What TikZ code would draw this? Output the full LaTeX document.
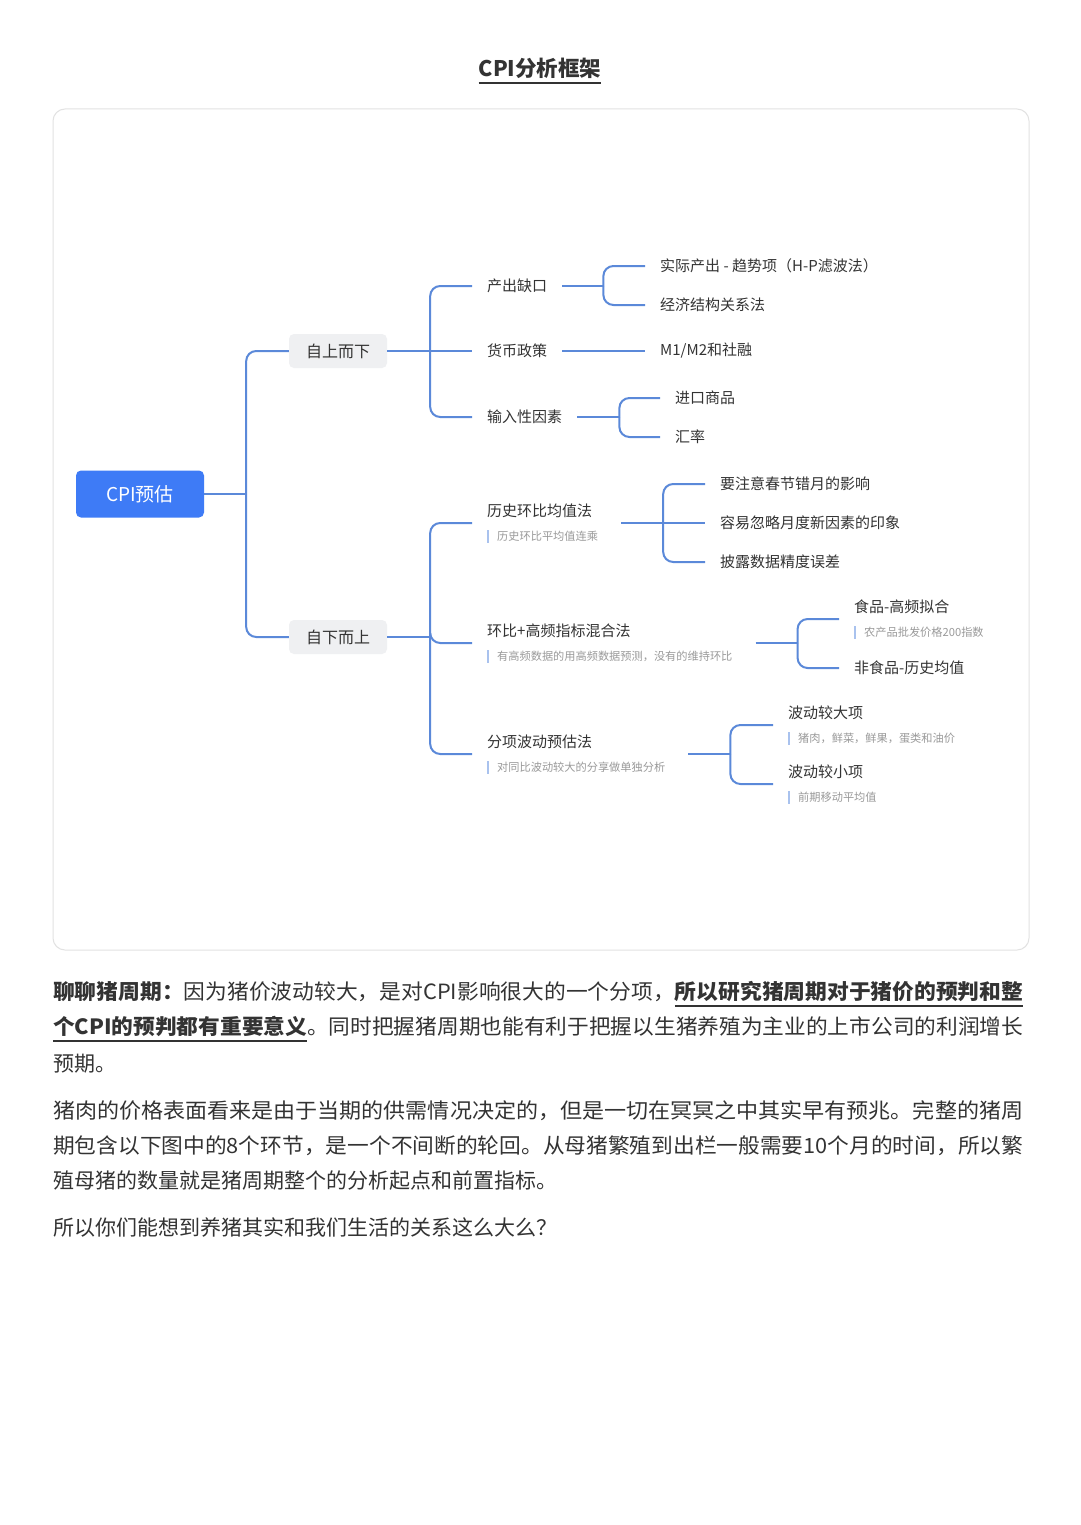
\documentclass[tikz,border=0pt]{standalone}
\usepackage{fontspec}
\setmainfont{Noto Sans CJK SC}
\usepackage{graphicx}
\usetikzlibrary{calc}
\definecolor{tc}{HTML}{333333}
\definecolor{connc}{HTML}{5B89D9}
\definecolor{rootc}{HTML}{3E7BF6}
\definecolor{boxc}{HTML}{EFF0F2}
\definecolor{framec}{HTML}{E2E2E2}
\definecolor{barc}{HTML}{A9C2EE}
\definecolor{subc}{HTML}{9A9A9A}
\newsavebox\ulbox
\newcommand\myul[1]{\sbox\ulbox{#1}\rlap{\rule[-7pt]{\wd\ulbox}{1.8pt}}\usebox\ulbox}
\newcommand\fitl[1]{\resizebox{970pt}{\height}{#1}}
\newcommand\twol[2]{\vbox{\baselineskip=24pt\lineskiplimit=-50pt\lineskip=0pt
  \hbox{\fontsize{15}{18}\selectfont\color{tc}#1}
  \hbox{\textcolor{barc}{\rule[-2.5pt]{1.5pt}{13pt}}\hspace{8.5pt}\textcolor{subc}{\fontsize{11.2}{12}\selectfont #2}}}\kern8pt\relax}
\tikzset{
  txt/.style={anchor=west, inner xsep=15pt, inner ysep=2pt, font=\fontsize{15}{18}\selectfont, text=tc},
  grp/.style={anchor=west, inner xsep=15pt, inner ysep=0pt},
  catbox/.style={fill=boxc, rounded corners=5pt, minimum width=98pt, minimum height=34pt, inner sep=0pt, font=\fontsize{16}{18}\selectfont, text=tc},
  rootbox/.style={fill=rootc, rounded corners=5pt, minimum width=128pt, minimum height=47pt, inner sep=0pt, text=white, font=\fontsize{19}{22}\selectfont},
  conn/.style={draw=connc, line width=2pt, rounded corners=10pt},
  para/.style={anchor=west, inner sep=0pt, font=\fontsize{21}{24}\selectfont, text=tc},
}
\begin{document}
\begin{tikzpicture}[x=1pt,y=-1pt]
\useasboundingbox (0,0) rectangle (1080,1525);
\fill[white] (0,0) rectangle (1080,1525);
% title
\node[inner sep=0pt, font=\bfseries\fontsize{21.5}{24}\selectfont, text=tc] (title) at (540,71) {\myul{CPI分析框架}};
% frame
\draw[framec, line width=1pt, rounded corners=12pt] (53,109) rectangle (1029,950);
% nodes
\node[rootbox] (cpi) at (140,494) {CPI预估};
\node[catbox] (top) at (338,351) {自上而下};
\node[catbox] (bot) at (338,637) {自下而上};
\node[txt] (gap) at (472,286) {产出缺口};
\node[txt] (mon) at (472,351) {货币政策};
\node[txt] (imp) at (472,417) {输入性因素};
\node[txt] (hp) at (645,266) {实际产出 - 趋势项（H-P滤波法）};
\node[txt] (econ) at (645,305) {经济结构关系法};
\node[txt] (m12) at (645,351) {M1/M2和社融};
\node[txt] (goods) at (660,398) {进口商品};
\node[txt] (fx) at (660,437) {汇率};
\node[grp] (hist) at (472,523) {\twol{历史环比均值法}{历史环比平均值连乘}};
\node[grp] (mix) at (472,643) {\twol{环比+高频指标混合法}{有高频数据的用高频数据预测，没有的维持环比}};
\node[grp] (itm) at (472,754) {\twol{分项波动预估法}{对同比波动较大的分享做单独分析}};
\node[txt] (l1) at (705,484) {要注意春节错月的影响};
\node[txt] (l2) at (705,523) {容易忽略月度新因素的印象};
\node[txt] (l3) at (705,562) {披露数据精度误差};
\node[grp] (food) at (839,619) {\twol{食品-高频拟合}{农产品批发价格200指数}};
\node[txt] (nonf) at (839,668) {非食品-历史均值};
\node[grp] (big) at (773,725) {\twol{波动较大项}{猪肉，鲜菜，鲜果，蛋类和油价}};
\node[grp] (small) at (773,784) {\twol{波动较小项}{前期移动平均值}};
% connectors
\draw[conn] (cpi.east) -- ++(42,0) coordinate (j0);
\draw[conn] (j0) |- (top.west);
\draw[conn] (j0) |- (bot.west);
\draw[conn] (top.east) -- ++(43,0) coordinate (j1);
\draw[conn] (j1) |- (gap.west);
\draw[conn] (j1) -- (mon.west);
\draw[conn] (j1) |- (imp.west);
\draw[conn] (gap.east) -- ++(41,0) coordinate (j2);
\draw[conn] (j2) |- (hp.west);
\draw[conn] (j2) |- (econ.west);
\draw[conn] (mon.east) -- (m12.west);
\draw[conn] (imp.east) -- ++(42,0) coordinate (j3);
\draw[conn] (j3) |- (goods.west);
\draw[conn] (j3) |- (fx.west);
\draw[conn] (bot.east) -- ++(43,0) coordinate (j4);
\draw[conn] (j4) |- (hist.west);
\draw[conn] (j4) |- (mix.west);
\draw[conn] (j4) |- (itm.west);
\draw[conn] (hist.east) -- ++(42,0) coordinate (j5);
\draw[conn] (j5) |- (l1.west);
\draw[conn] (j5) -- (l2.west);
\draw[conn] (j5) |- (l3.west);
\draw[conn] (mix.east) -- ++(42,0) coordinate (j6);
\draw[conn] (j6) |- (food.west);
\draw[conn] (j6) |- (nonf.west);
\draw[conn] (itm.east) -- ++(42,0) coordinate (j7);
\draw[conn] (j7) |- (big.west);
\draw[conn] (j7) |- (small.west);
% paragraphs
\node[para] (p1) at (53,994) {\fitl{{\bfseries 聊聊猪周期：}因为猪价波动较大，是对CPI影响很大的一个分项，{\bfseries\myul{所以研究猪周期对于猪价的预判和整}}}};
\node[para] (p2) at (53,1029) {\fitl{{\bfseries\myul{个CPI的预判都有重要意义}}。同时把握猪周期也能有利于把握以生猪养殖为主业的上市公司的利润增长}};
\node[para] (p3) at (53,1064) {预期。};
\node[para] (q1) at (53,1111) {\fitl{猪肉的价格表面看来是由于当期的供需情况决定的，但是一切在冥冥之中其实早有预兆。完整的猪周}};
\node[para] (q2) at (53,1146) {\fitl{期包含以下图中的8个环节，是一个不间断的轮回。从母猪繁殖到出栏一般需要10个月的时间，所以繁}};
\node[para] (q3) at (53,1181) {殖母猪的数量就是猪周期整个的分析起点和前置指标。};
\node[para] (r1) at (53,1227) {所以你们能想到养猪其实和我们生活的关系这么大么？};
\end{tikzpicture}
\end{document}
